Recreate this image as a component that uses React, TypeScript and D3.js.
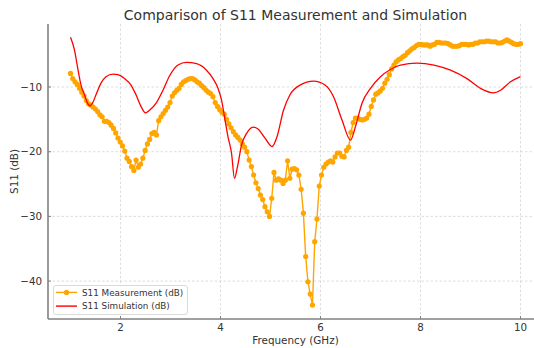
import React, { useEffect, useRef } from 'react';
import * as d3 from 'd3';

// Measurement sweep: 200 points, 1 to 10 GHz
const measStartGHz = 1;
const measStopGHz = 10;
const measDb: number[] = [
  -7.9, -8.7, -9.2, -9.6, -10.2, -10.8, -11.4, -12.1, -12.6, -12.8,
  -13.1, -13.4, -13.8, -14.3, -14.6, -15.3, -15.3, -15.5, -15.9, -16.4,
  -17.1, -17.9, -18.5, -19.1, -19.9, -21.0, -21.5, -22.3, -22.9, -21.3,
  -22.4, -21.9, -21.0, -19.8, -18.8, -18.1, -17.2, -17.0, -17.4, -15.2,
  -14.6, -14.1, -13.6, -13.1, -12.4, -11.4, -10.9, -10.5, -10.2, -9.6,
  -9.2, -9.0, -8.8, -8.7, -8.7, -8.9, -9.2,
  -9.4, -9.8, -10.1, -10.5, -10.8, -11.0, -11.5, -12.4, -13.0, -13.5,
  -13.9, -14.2, -15.0, -15.7, -16.3, -16.9, -17.4, -17.8, -18.2, -18.8,
  -19.3,
  -20.0, -21.3, -22.3, -23.6, -24.8, -25.7, -26.7, -27.4, -28.5, -29.3,
  -30.0, -27.2, -23.2, -24.4, -24.2, -24.4, -24.9, -24.4, -21.4, -24.1,
  -22.7, -22.6, -22.8, -23.6, -25.8, -29.5, -36.2, -40.1, -42.0, -43.7,
  -33.9, -30.4, -25.3, -23.6, -22.4, -21.9, -21.6, -21.4, -21.6, -20.8,
  -20.2, -20.2, -20.7, -20.8,
  -19.8, -19.3, -17.0, -15.5, -14.8, -14.8, -15.0, -15.1, -15.0, -14.8,
  -14.2, -13.0, -12.0, -11.1, -10.9, -10.6, -10.2, -9.4, -8.8, -8.1,
  -7.2, -6.6, -6.1, -5.8, -5.6, -5.3, -5.1, -4.7, -4.4, -4.1,
  -3.9, -3.6, -3.4, -3.4, -3.5, -3.5, -3.5, -3.7, -3.5, -3.4,
  -3.1, -3.1, -3.2, -3.2, -3.2, -3.3, -3.5, -3.7, -3.7, -3.7,
  -3.6, -3.4, -3.4, -3.4, -3.5, -3.4, -3.4, -3.2, -3.2, -3.0,
  -3.0, -3.0, -2.9, -2.9, -3.0, -3.0, -3.0, -3.2, -3.2, -3.1,
  -2.9, -2.7, -2.9, -3.1, -3.3, -3.4, -3.4, -3.3,
];

const simGHz: number[] = [
  1.0, 1.08, 1.14, 1.21, 1.28, 1.34, 1.39, 1.44, 1.51, 1.61,
  1.71, 1.85, 1.95, 2.08, 2.21, 2.31, 2.41, 2.5, 2.58, 2.72,
  2.85, 2.98, 3.15, 3.32, 3.52, 3.72, 3.85, 3.95, 4.02, 4.08,
  4.15, 4.22, 4.28, 4.34, 4.42, 4.52, 4.65, 4.75, 4.89, 5.03,
  5.13, 5.26, 5.39, 5.59, 5.86, 6.09, 6.26, 6.43, 6.6, 6.7,
  6.83, 7.0, 7.2, 7.4, 7.6, 7.93, 8.27, 8.6, 8.93, 9.2,
  9.46, 9.6, 9.8, 10.0,
];
const simDb: number[] = [
  -2.3, -4.3, -6.9, -9.7, -11.2, -12.5, -12.9, -12.5, -11.2, -9.4,
  -8.4, -8.0, -8.1, -8.7, -9.7, -11.2, -13.0, -14.0, -13.6, -12.4,
  -10.5, -8.3, -6.6, -6.2, -6.4, -7.4, -8.7, -10.2, -12.0, -14.6,
  -17.7, -20.2, -24.1, -22.3, -19.0, -17.2, -16.2, -16.5, -17.9, -19.2,
  -17.7, -13.6, -11.2, -9.7, -9.1, -9.7, -11.5, -15.1, -18.2, -16.1,
  -12.5, -10.2, -8.4, -7.3, -6.6, -6.3, -6.6, -7.4, -8.7, -10.2,
  -10.9, -10.5, -9.2, -8.4,
];

const xTicks = [2, 4, 6, 8, 10];
const yTicks = [-40, -30, -20, -10];

const App: React.FC = () => {
  const svgRef = useRef<SVGSVGElement>(null);

  useEffect(() => {
    if (!svgRef.current) return;
    const svg = d3.select(svgRef.current);
    svg.selectAll('*').remove();

    const font = 'DejaVu Sans, sans-serif';
    const left = 48, right = 543, top = 24, bottom = 319;

    const x = d3.scaleLinear().domain([0.55, 10.45]).range([left, right]);
    const y = d3.scaleLinear().domain([-45.86, -0.26]).range([bottom, top]);

    const n = measDb.length;
    const meas = measDb.map((v, i) => ({
      f: measStartGHz + ((measStopGHz - measStartGHz) * i) / (n - 1),
      v,
    }));
    const sim = simGHz.map((f, i) => ({ f, v: simDb[i] }));

    // grid
    const grid = svg.append('g');
    grid.selectAll('.gx')
      .data(xTicks)
      .join('line')
      .attr('x1', d => x(d)).attr('x2', d => x(d))
      .attr('y1', top).attr('y2', bottom)
      .attr('stroke', '#cfcfcf').attr('stroke-width', 0.7)
      .attr('stroke-dasharray', '2.5,2');
    grid.selectAll('.gy')
      .data(yTicks)
      .join('line')
      .attr('x1', left).attr('x2', right)
      .attr('y1', d => y(d)).attr('y2', d => y(d))
      .attr('stroke', '#cfcfcf').attr('stroke-width', 0.7)
      .attr('stroke-dasharray', '2.5,2');

    // measurement
    const measLine = d3.line<{ f: number; v: number }>()
      .x(d => x(d.f))
      .y(d => y(d.v));
    svg.append('path')
      .datum(meas)
      .attr('d', measLine)
      .attr('fill', 'none')
      .attr('stroke', '#FFA500')
      .attr('stroke-width', 1.4);
    svg.append('g')
      .selectAll('circle')
      .data(meas)
      .join('circle')
      .attr('cx', d => x(d.f))
      .attr('cy', d => y(d.v))
      .attr('r', 2.6)
      .attr('fill', '#FFA500');

    // simulation
    const simLine = d3.line<{ f: number; v: number }>()
      .x(d => x(d.f))
      .y(d => y(d.v))
      .curve(d3.curveMonotoneX);
    svg.append('path')
      .datum(sim)
      .attr('d', simLine)
      .attr('fill', 'none')
      .attr('stroke', '#FF0000')
      .attr('stroke-width', 1.3);

    // spines
    svg.append('line')
      .attr('x1', left).attr('x2', left).attr('y1', top).attr('y2', bottom)
      .attr('stroke', '#808080').attr('stroke-width', 1.6);
    svg.append('line')
      .attr('x1', left).attr('x2', right).attr('y1', bottom).attr('y2', bottom)
      .attr('stroke', '#808080').attr('stroke-width', 1.6);

    // ticks (inward) + labels
    const xt = svg.append('g');
    xt.selectAll('line')
      .data(xTicks)
      .join('line')
      .attr('x1', d => x(d)).attr('x2', d => x(d))
      .attr('y1', bottom).attr('y2', bottom - 3)
      .attr('stroke', '#808080').attr('stroke-width', 1);
    xt.selectAll('text')
      .data(xTicks)
      .join('text')
      .attr('x', d => x(d))
      .attr('y', 330.7)
      .attr('text-anchor', 'middle')
      .style('font-family', font)
      .style('font-size', '10.3px')
      .attr('fill', '#333')
      .text(d => String(d));

    const yt = svg.append('g');
    yt.selectAll('line')
      .data(yTicks)
      .join('line')
      .attr('x1', left).attr('x2', left + 3)
      .attr('y1', d => y(d)).attr('y2', d => y(d))
      .attr('stroke', '#808080').attr('stroke-width', 1);
    yt.selectAll('text')
      .data(yTicks)
      .join('text')
      .attr('x', 42)
      .attr('y', d => y(d) + 3.7)
      .attr('text-anchor', 'end')
      .style('font-family', font)
      .style('font-size', '10.3px')
      .attr('fill', '#333')
      .text(d => '\u2212' + Math.abs(d));

    // titles
    svg.append('text')
      .attr('x', (left + right) / 2)
      .attr('y', 19.5)
      .attr('text-anchor', 'middle')
      .style('font-family', font)
      .style('font-size', '14px')
      .attr('fill', '#333')
      .text('Comparison of S11 Measurement and Simulation');
    svg.append('text')
      .attr('x', (left + right) / 2)
      .attr('y', 343.5)
      .attr('text-anchor', 'middle')
      .style('font-family', font)
      .style('font-size', '10.4px')
      .attr('fill', '#333')
      .text('Frequency (GHz)');
    svg.append('text')
      .attr('transform', `translate(18,${(top + bottom) / 2}) rotate(-90)`)
      .attr('text-anchor', 'middle')
      .style('font-family', font)
      .style('font-size', '10.4px')
      .attr('fill', '#333')
      .text('S11 (dB)');

    // legend
    const legend = svg.append('g');
    legend.append('rect')
      .attr('x', 53.5).attr('y', 285.5)
      .attr('width', 134).attr('height', 29)
      .attr('rx', 2.5)
      .attr('fill', 'white').attr('fill-opacity', 0.8)
      .attr('stroke', '#d0d0d0').attr('stroke-width', 0.8);
    const items = [
      { label: 'S11 Measurement (dB)', color: '#FFA500', marker: true },
      { label: 'S11 Simulation (dB)', color: '#FF0000', marker: false },
    ];
    items.forEach((it, i) => {
      const cy = 292.4 + i * 13.7;
      legend.append('line')
        .attr('x1', 56).attr('x2', 77).attr('y1', cy).attr('y2', cy)
        .attr('stroke', it.color).attr('stroke-width', 1.4);
      if (it.marker) {
        legend.append('circle')
          .attr('cx', 66.5).attr('cy', cy).attr('r', 2.6)
          .attr('fill', it.color);
      }
      legend.append('text')
        .attr('x', 82)
        .attr('y', cy + 3.2)
        .style('font-family', font)
        .style('font-size', '8.8px')
        .attr('fill', '#333')
        .text(it.label);
    });
  }, []);

  return (
    <svg
      ref={svgRef}
      width={534}
      height={348}
      style={{ position: 'absolute', left: 0, top: 0, background: 'white' }}
    />
  );
};

export default App;
